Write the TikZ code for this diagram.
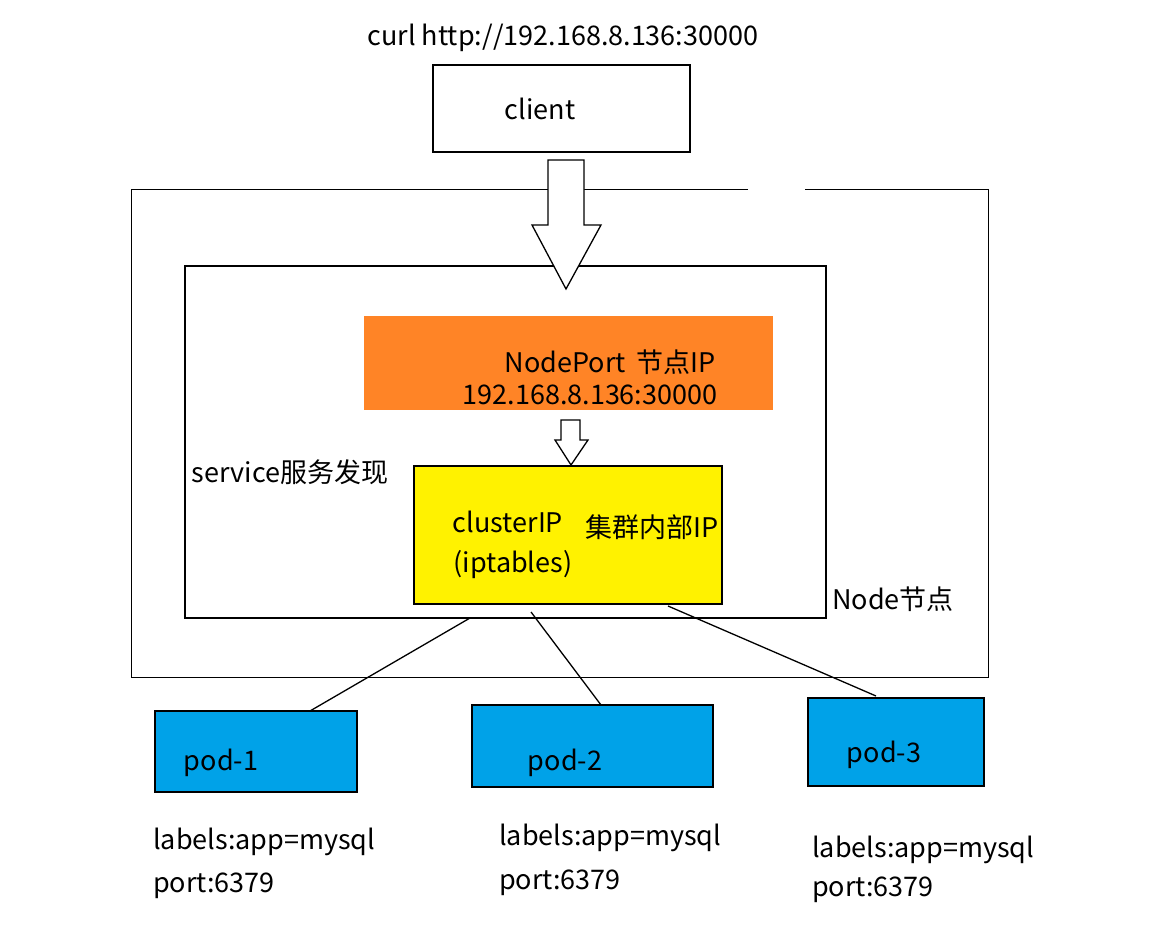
\documentclass[tikz,border=0pt]{standalone}
\usepackage{fontspec}
\setmainfont{Noto Sans CJK SC}
\usepackage{tikz}
\definecolor{npOrange}{HTML}{FF8426}
\definecolor{ciYellow}{HTML}{FFF200}
\definecolor{podBlue}{HTML}{00A2E8}
\tikzset{
  txt/.style={inner sep=0pt, font=\fontsize{27}{30}\selectfont},
  box/.style={draw=black, line width=1.5pt},
  pod/.style={box, fill=podBlue},
  hollow/.style={draw=black, line width=1.3pt, fill=white, line join=miter},
}
\begin{document}
\begin{tikzpicture}[x=1pt, y=-1pt]
      \useasboundingbox (0,0) rectangle (1152,933);
      % outer node box, gap in top edge
      \draw[thin] (748,189) -- (131,189) -- (131,677) -- (988,677) -- (988,189) -- (805,189);
      \draw[box,line width=2pt] (185,266) rectangle (826,618);
      % client
      \node[txt] (curl) at (563,38) {curl http://192.168.8.136:30000};
      \draw[box] (433,65) rectangle (690,152);
      \node[txt] (client) at (540,109) {client};
      % big hollow arrow
      \draw[hollow] (548,160) -- (584,160) -- (584,225) -- (601,225) -- (566,289)
        -- (532,225) -- (548,225) -- cycle;
      % nodeport
      \fill[npOrange] (364,316) rectangle (773,410);
      \node[txt] (np) at (610,362) {NodePort\, 节点IP};
      \node[txt] (npip) at (590,395) {192.168.8.136:30000};
      % small hollow arrow
      \draw[hollow] (561,420) -- (580,420) -- (580,440) -- (588,440) -- (571,465)
        -- (555,440) -- (561,440) -- cycle;
      % cluster ip
      \draw[box, fill=ciYellow] (414,466) rectangle (722,604);
      \node[txt] (cip) at (508,522) {clusterIP};
      \node[txt] (cipcn) at (652,527) {集群内部IP};
      \node[txt] (ipt) at (513,565) {(iptables)};
      \node[txt] (svc) at (290,472) {service服务发现};
      \node[txt] (node) at (893,599) {Node节点};
      % pods
      \draw[pod] (155,711) rectangle (357,792);
      \draw[pod] (472,705) rectangle (713,787);
      \draw[pod] (808,698) rectangle (984,786);
      \node[txt] (pod1) at (221,763) {pod-1};
      \node[txt] (pod2) at (565,763) {pod-2};
      \node[txt] (pod3) at (884,755) {pod-3};
      \coordinate (c1) at (470,618); \coordinate (p1) at (310,711);
      \coordinate (c2) at (531,612); \coordinate (p2) at (601,705);
      \coordinate (c3) at (668,606); \coordinate (p3) at (876,696);
      \draw[line width=1.3pt] (c1) -- (p1);
      \draw[line width=1.3pt] (c2) -- (p2);
      \draw[line width=1.3pt] (c3) -- (p3);
      % labels
      \node[txt, anchor=west] (l1) at (153,842) {labels:app=mysql};
      \node[txt, anchor=west] (o1) at (153,886) {port:6379};
      \node[txt, anchor=west] (l2) at (499,838) {labels:app=mysql};
      \node[txt, anchor=west] (o2) at (499,883) {port:6379};
      \node[txt, anchor=west] (l3) at (812,850) {labels:app=mysql};
      \node[txt, anchor=west] (o3) at (812,890) {port:6379};
\end{tikzpicture}
\end{document}
